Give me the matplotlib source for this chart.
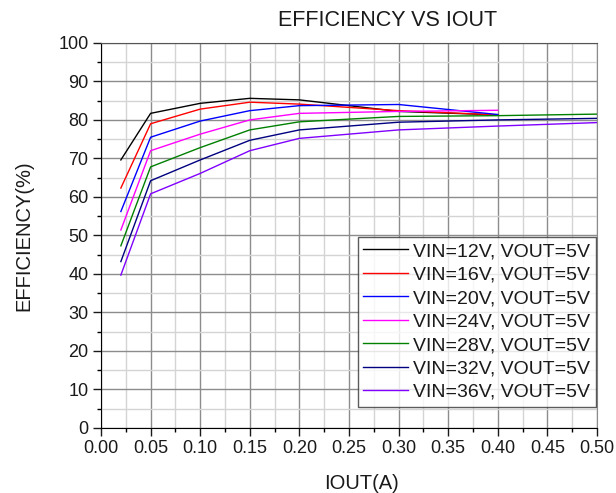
import matplotlib.pyplot as plt
from matplotlib.ticker import MultipleLocator

plt.rcParams['font.family'] = ['Liberation Sans', 'DejaVu Sans']

iout_short = [0.02, 0.05, 0.10, 0.15, 0.20, 0.30, 0.40]
iout_long = [0.02, 0.05, 0.10, 0.15, 0.20, 0.30, 0.40, 0.50]

eff_12 = [69.6, 81.7, 84.3, 85.6, 85.2, 82.2, 81.3]
eff_16 = [62.3, 79.0, 82.8, 84.6, 84.1, 82.4, 81.3]
eff_20 = [56.2, 75.5, 79.7, 82.4, 83.7, 84.0, 81.4]
eff_24 = [51.4, 72.0, 76.3, 80.0, 81.7, 82.2, 82.5]
eff_28 = [47.3, 67.8, 72.8, 77.4, 79.5, 80.9, 81.1, 81.5]
eff_32 = [43.2, 64.2, 69.6, 74.7, 77.4, 79.4, 80.0, 80.4]
eff_36 = [39.7, 60.8, 66.1, 72.0, 75.2, 77.4, 78.4, 79.3]

series = [
    ("VIN=12V, VOUT=5V", iout_short, eff_12, "black"),
    ("VIN=16V, VOUT=5V", iout_short, eff_16, "red"),
    ("VIN=20V, VOUT=5V", iout_short, eff_20, "blue"),
    ("VIN=24V, VOUT=5V", iout_short, eff_24, "#ff00ff"),
    ("VIN=28V, VOUT=5V", iout_long, eff_28, "#008000"),
    ("VIN=32V, VOUT=5V", iout_long, eff_32, "#000080"),
    ("VIN=36V, VOUT=5V", iout_long, eff_36, "#8000ff"),
]

fig = plt.figure(figsize=(6.16, 4.93), dpi=100)
ax = fig.add_axes([0.164, 0.132, 0.805, 0.781])

for name, x, y, c in series:
    ax.plot(x, y, color=c, linewidth=1.0, label=name)

ax.set_xlim(0, 0.5)
ax.set_ylim(0, 100)
ax.xaxis.set_major_locator(MultipleLocator(0.05))
ax.xaxis.set_minor_locator(MultipleLocator(0.025))
ax.yaxis.set_major_locator(MultipleLocator(10))
ax.yaxis.set_minor_locator(MultipleLocator(5))
ax.xaxis.set_major_formatter(plt.FuncFormatter(lambda v, p: f"{v:.2f}"))

ax.grid(which='major', color='#8c8c8c', linewidth=1.0)
ax.grid(which='minor', color='#d4d4d4', linewidth=1.0)
ax.set_axisbelow(True)

ax.tick_params(which='major', direction='out', length=6, width=1, labelsize=13,
               colors='#1a1a1a', pad=3)
ax.tick_params(which='minor', direction='out', length=3, width=1)
ax.tick_params(top=False, right=False)

ax.spines['top'].set_color('#555555')
ax.spines['right'].set_color('#8c8c8c')
ax.spines['left'].set_color('black')
ax.spines['bottom'].set_color('black')

ax.set_title("EFFICIENCY VS IOUT", fontsize=15.5, pad=12, x=0.577, color='#1a1a1a')
ax.set_xlabel("IOUT(A)", fontsize=14.5, labelpad=12, x=0.526, color='#1a1a1a')
ax.set_ylabel("EFFICIENCY(%)", fontsize=14.5, labelpad=18, color='#1a1a1a')

leg = ax.legend(loc='lower right', bbox_to_anchor=(0.998, 0.055), fontsize=14,
                frameon=True, fancybox=False, edgecolor='#333333',
                handlelength=2.3, handletextpad=0.25, labelspacing=0.3,
                borderpad=0.3, borderaxespad=0)
leg.get_frame().set_linewidth(1.0)
for t in leg.get_texts():
    t.set_color('#1a1a1a')

plt.savefig("out.png", dpi=100)
